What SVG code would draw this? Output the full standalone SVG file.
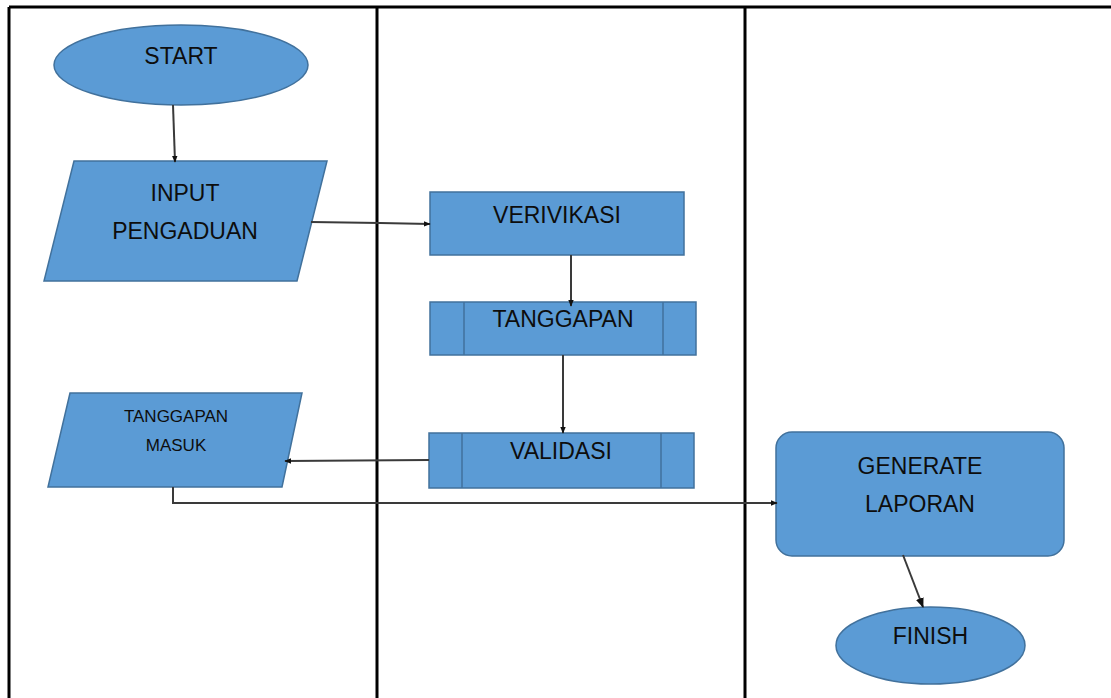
<svg xmlns="http://www.w3.org/2000/svg" width="1111" height="698" viewBox="0 0 1111 698">
  <defs>
    <marker id="arrow" viewBox="0 0 10 10" refX="9" refY="5" markerWidth="7" markerHeight="7" orient="auto" markerUnits="userSpaceOnUse">
      <path d="M0,1 L10,5 L0,9 z" fill="#111"/>
    </marker>
    <marker id="arrowBig" viewBox="0 0 10 10" refX="9" refY="5" markerWidth="10" markerHeight="10" orient="auto" markerUnits="userSpaceOnUse">
      <path d="M0,1 L10,5 L0,9 z" fill="#111"/>
    </marker>
  </defs>
  <style>
    .shape { fill: #5b9bd5; stroke: #41719c; stroke-width: 1.5; }
    .inner { fill: none; stroke: #41719c; stroke-width: 1.5; }
    .label { font-family: "Liberation Sans", Arial, sans-serif; font-size: 23px; fill: #0d0d0d; text-anchor: middle; }
    .small { font-size: 17px; }
    .lane { stroke: #000; stroke-width: 3; fill: none; }
    .conn { stroke: #3a3a3a; stroke-width: 2; fill: none; }
  </style>
  <rect width="1111" height="698" fill="#fff"/>

  <!-- swimlane frame -->
  <g id="lanes">
    <line class="lane" x1="9" y1="7" x2="1111" y2="7"/>
    <line class="lane" x1="9" y1="7" x2="9" y2="698"/>
    <line class="lane" x1="377" y1="7" x2="377" y2="698"/>
    <line class="lane" x1="745" y1="7" x2="745" y2="698"/>
  </g>

  <g id="start">
    <ellipse class="shape" cx="181" cy="65" rx="127" ry="40"/>
    <text class="label" x="181" y="64">START</text>
  </g>

  <g id="input-pengaduan">
    <polygon class="shape" points="74,161 327,161 297,281 44,281"/>
    <text class="label" x="185" y="201">INPUT</text>
    <text class="label" x="185" y="239">PENGADUAN</text>
  </g>

  <g id="verivikasi">
    <rect class="shape" x="430" y="192" width="254" height="63"/>
    <text class="label" x="557" y="223">VERIVIKASI</text>
  </g>

  <g id="tanggapan">
    <rect class="shape" x="430" y="302" width="266" height="53"/>
    <line class="inner" x1="464" y1="302" x2="464" y2="355"/>
    <line class="inner" x1="663" y1="302" x2="663" y2="355"/>
    <text class="label" x="563" y="327">TANGGAPAN</text>
  </g>

  <g id="validasi">
    <rect class="shape" x="429" y="433" width="265" height="55"/>
    <line class="inner" x1="462" y1="433" x2="462" y2="488"/>
    <line class="inner" x1="661" y1="433" x2="661" y2="488"/>
    <text class="label" x="561" y="459">VALIDASI</text>
  </g>

  <g id="tanggapan-masuk">
    <polygon class="shape" points="70,393 302,393 282,487 48,487"/>
    <text class="label small" x="176" y="422">TANGGAPAN</text>
    <text class="label small" x="176" y="451">MASUK</text>
  </g>

  <g id="generate-laporan">
    <rect class="shape" x="776" y="432" width="288" height="124" rx="16" ry="16"/>
    <text class="label" x="920" y="474">GENERATE</text>
    <text class="label" x="920" y="512">LAPORAN</text>
  </g>

  <g id="finish">
    <ellipse class="shape" cx="930.5" cy="645.5" rx="94.5" ry="38.5"/>
    <text class="label" x="930.5" y="644">FINISH</text>
  </g>

  <!-- flow connectors -->
  <g id="connectors">
    <line class="conn" x1="173" y1="105" x2="175" y2="162" marker-end="url(#arrow)"/>
    <polyline class="conn" points="311,222 380,223 430,224" marker-end="url(#arrow)"/>
    <line class="conn" x1="571" y1="255" x2="571" y2="306" marker-end="url(#arrow)"/>
    <line class="conn" x1="563" y1="355" x2="563" y2="433" marker-end="url(#arrow)"/>
    <line class="conn" x1="429" y1="460" x2="285" y2="461" marker-end="url(#arrow)"/>
    <polyline class="conn" points="173,487 173,503 777,503" marker-end="url(#arrow)"/>
    <line class="conn" x1="903" y1="555" x2="923" y2="607" marker-end="url(#arrowBig)"/>
  </g>
</svg>
